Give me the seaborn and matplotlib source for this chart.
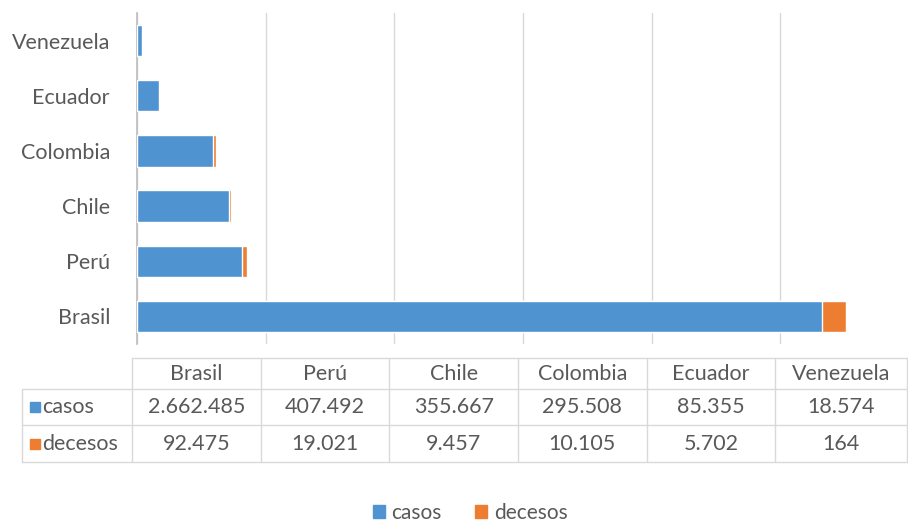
import matplotlib
matplotlib.use("Agg")
import matplotlib.pyplot as plt
from matplotlib.patches import Patch, Rectangle
import pandas as pd
import seaborn as sns

# datos
paises = ["Brasil", "Perú", "Chile", "Colombia", "Ecuador", "Venezuela"]
casos = [2662485, 407492, 355667, 295508, 85355, 18574]
decesos = [92475, 19021, 9457, 10105, 5702, 164]

azul = "#5093D1"
naranja = "#ED7D31"
gris = "#595959"
linea = "#D9D9D9"

df = pd.DataFrame({"pais": paises, "casos": casos, "decesos": decesos})
df["total"] = df["casos"] + df["decesos"]
orden = paises[::-1]

sns.set_theme(style="white")
plt.rcParams["font.family"] = ["Lato", "DejaVu Sans"]

W, H = 908, 523
fig = plt.figure(figsize=(W / 100, H / 100), dpi=100)
x0, x1, y0, y1 = 137, 909, 13, 344
ax = fig.add_axes([x0 / W, 1 - y1 / H, (x1 - x0) / W, (y1 - y0) / H])

# barras apiladas: total (naranja) debajo y casos (azul) encima
sns.barplot(data=df, y="pais", x="total", order=orden, color=naranja,
            width=0.57, saturation=1, ax=ax, zorder=2)
sns.barplot(data=df, y="pais", x="casos", order=orden, color=azul,
            width=0.57, saturation=1, ax=ax, zorder=3)

ax.set_xlim(0, 3000000)
ax.set_xticks(range(0, 3000001, 500000))
ax.set_xticklabels([])
ax.grid(axis="x", color=linea, linewidth=1, zorder=0)
ax.set_xlabel("")
ax.set_ylabel("")
ax.tick_params(axis="y", length=0, pad=19.5, labelsize=15.5, labelcolor=gris)
ax.tick_params(axis="x", length=0)
for s in ["top", "right", "bottom"]:
    ax.spines[s].set_visible(False)
ax.spines["left"].set_color("#BFBFBF")

# tabla de datos
tb = fig.add_axes([0, 0, 1, 1], zorder=-1)
tb.set_xlim(0, W)
tb.set_ylim(H, 0)
tb.axis("off")

ancho = (x1 - x0) / 6
bordes = [x0 - 5 + i * ancho for i in range(7)]
bordes[-1] = 907
izq = 22
filas = [358, 389, 425, 462]

tb.plot([bordes[0], bordes[-1]], [filas[0]] * 2, color=linea, lw=1)
for yy in filas[1:]:
    tb.plot([izq, bordes[-1]], [yy] * 2, color=linea, lw=1)
for xx in bordes:
    tb.plot([xx, xx], [filas[0], filas[-1]], color=linea, lw=1)
tb.plot([izq, izq], [filas[1], filas[-1]], color=linea, lw=1)

def fmt(v):
    return f"{v:,}".replace(",", ".")

fs = 15.5
for i, p in enumerate(paises):
    cx = (bordes[i] + bordes[i + 1]) / 2
    tb.text(cx, (filas[0] + filas[1]) / 2, p, ha="center", va="center",
            fontsize=fs, color=gris)
    tb.text(cx, (filas[1] + filas[2]) / 2, fmt(casos[i]), ha="center",
            va="center", fontsize=fs, color=gris)
    tb.text(cx, (filas[2] + filas[3]) / 2, fmt(decesos[i]), ha="center",
            va="center", fontsize=fs, color=gris)

for j, (nombre, col) in enumerate([("casos", azul), ("decesos", naranja)]):
    cy = (filas[j + 1] + filas[j + 2]) / 2
    tb.add_patch(Rectangle((30, cy - 5), 10, 10, color=col))
    tb.text(42, cy, nombre, ha="left", va="center", fontsize=fs, color=gris)

# leyenda
handles = [Patch(color=azul, label="casos"), Patch(color=naranja, label="decesos")]
fig.legend(handles=handles, loc="center", bbox_to_anchor=(470 / W, 1 - 513 / H),
           ncol=2, frameon=False, handlelength=0.6, handleheight=0.6,
           handletextpad=0.3, columnspacing=1.6, prop={"size": 15},
           labelcolor=gris)

fig.savefig("out.png", dpi=100)
